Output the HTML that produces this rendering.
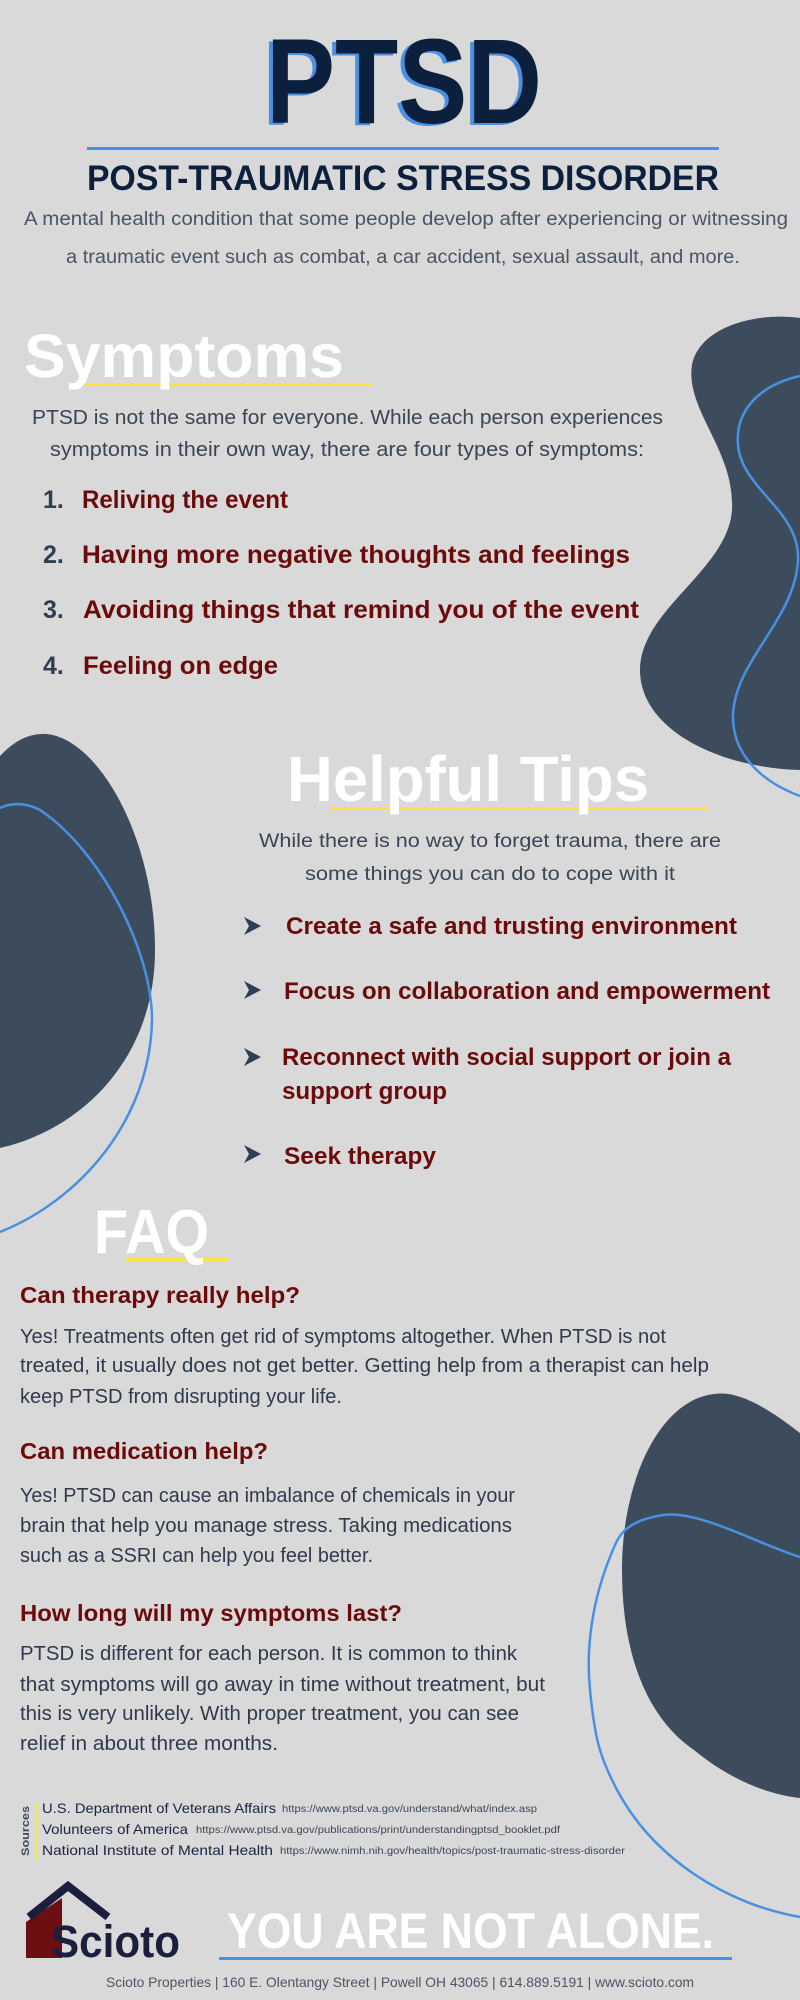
<!DOCTYPE html>
<html><head><meta charset="utf-8"><style>
html,body{margin:0;padding:0;background:#d9d9d9;}
svg{display:block;}
text{font-family:"Liberation Sans",sans-serif;}
</style></head><body>
<svg width="800" height="2000" viewBox="0 0 800 2000" xmlns="http://www.w3.org/2000/svg">
<rect width="800" height="2000" fill="#d9d9d9"/>
<!-- blobs -->
<path d="M800,318 C760,312 700,325 692,365 C685,410 735,450 732,510 C728,570 640,610 640,670 C640,730 720,768 800,770 Z" fill="#3c4c5d"/>
<path d="M800,376 C760,385 735,410 738,445 C742,490 800,510 798,560 C795,620 735,660 733,715 C732,760 770,785 800,796" fill="none" stroke="#4a90e2" stroke-width="2.5"/>
<path d="M0,756 C15,740 30,733 47,734 C100,740 155,840 155,950 C155,1060 80,1130 0,1148 Z" fill="#3c4c5d"/>
<path d="M0,808 C10,803 25,802 40,810 C100,850 152,950 152,1020 C150,1120 80,1200 0,1232" fill="none" stroke="#4a90e2" stroke-width="2.5"/>
<path d="M800,1433 C770,1410 740,1390 714,1394 C660,1400 622,1480 622,1570 C622,1660 650,1720 694,1750 C730,1780 770,1795 800,1798 Z" fill="#3c4c5d"/>
<path d="M800,1557 C760,1545 700,1510 663,1515 C630,1520 620,1533 615,1545 C595,1590 585,1640 590,1690 C595,1740 600,1755 612,1780 C650,1860 730,1905 800,1917" fill="none" stroke="#4a90e2" stroke-width="2.5"/>

<!-- title -->
<text x="262" y="125" font-size="121" font-weight="bold" fill="#4a90e2" textLength="276" lengthAdjust="spacingAndGlyphs">PTSD</text>
<text x="266" y="123" font-size="121" font-weight="bold" fill="#0c1f3d" textLength="276" lengthAdjust="spacingAndGlyphs">PTSD</text>
<rect x="87" y="147" width="632" height="3" fill="#4a90e2"/>
<text x="87" y="190" font-size="35" font-weight="bold" fill="#0c1f3d" textLength="632" lengthAdjust="spacingAndGlyphs">POST-TRAUMATIC STRESS DISORDER</text>
<text x="24" y="225" font-size="19" fill="#4a5566" textLength="764" lengthAdjust="spacingAndGlyphs">A mental health condition that some people develop after experiencing or witnessing</text>
<text x="66" y="263" font-size="19" fill="#4a5566" textLength="674" lengthAdjust="spacingAndGlyphs">a traumatic event such as combat, a car accident, sexual assault, and more.</text>

<!-- symptoms -->
<rect x="83" y="383" width="288" height="3" fill="#f5e642"/>
<text x="24" y="377" font-size="61" font-weight="bold" fill="#ffffff" textLength="320" lengthAdjust="spacingAndGlyphs">Symptoms</text>
<text x="32" y="424" font-size="20" fill="#3a4556" textLength="631" lengthAdjust="spacingAndGlyphs">PTSD is not the same for everyone. While each person experiences</text>
<text x="50" y="456" font-size="20" fill="#3a4556" textLength="594" lengthAdjust="spacingAndGlyphs">symptoms in their own way, there are four types of symptoms:</text>
<g font-size="25" font-weight="bold">
<text x="43" y="508" fill="#2f3e52">1.</text>
<text x="82" y="508" fill="#6b0a0a" textLength="206" lengthAdjust="spacingAndGlyphs">Reliving the event</text>
<text x="43" y="563" fill="#2f3e52">2.</text>
<text x="82" y="563" fill="#6b0a0a" textLength="548" lengthAdjust="spacingAndGlyphs">Having more negative thoughts and feelings</text>
<text x="43" y="618" fill="#2f3e52">3.</text>
<text x="83" y="618" fill="#6b0a0a" textLength="556" lengthAdjust="spacingAndGlyphs">Avoiding things that remind you of the event</text>
<text x="43" y="674" fill="#2f3e52">4.</text>
<text x="83" y="674" fill="#6b0a0a" textLength="195" lengthAdjust="spacingAndGlyphs">Feeling on edge</text>
</g>

<!-- helpful tips -->
<rect x="329" y="807" width="379" height="3" fill="#f5e642"/>
<text x="287" y="801" font-size="64" font-weight="bold" fill="#ffffff" textLength="362" lengthAdjust="spacingAndGlyphs">Helpful Tips</text>
<text x="259" y="847" font-size="19" fill="#3a4556" textLength="462" lengthAdjust="spacingAndGlyphs">While there is no way to forget trauma, there are</text>
<text x="305" y="880" font-size="19" fill="#3a4556" textLength="370" lengthAdjust="spacingAndGlyphs">some things you can do to cope with it</text>
<g fill="#2f3e52">
<polygon points="244,917 261,926 244,935 249,926"/>
<polygon points="244,981 261,990 244,999 249,990"/>
<polygon points="244,1048 261,1057 244,1066 249,1057"/>
<polygon points="244,1145 261,1154 244,1163 249,1154"/>
</g>
<g font-size="24" font-weight="bold" fill="#6b0a0a">
<text x="286" y="934" textLength="451" lengthAdjust="spacingAndGlyphs">Create a safe and trusting environment</text>
<text x="284" y="999" textLength="486" lengthAdjust="spacingAndGlyphs">Focus on collaboration and empowerment</text>
<text x="282" y="1065" textLength="449" lengthAdjust="spacingAndGlyphs">Reconnect with social support or join a</text>
<text x="282" y="1099" textLength="165" lengthAdjust="spacingAndGlyphs">support group</text>
<text x="284" y="1164" textLength="152" lengthAdjust="spacingAndGlyphs">Seek therapy</text>
</g>

<!-- FAQ -->
<rect x="125" y="1258" width="102" height="3" fill="#f5e642"/>
<text x="94" y="1253" font-size="62" font-weight="bold" fill="#ffffff" textLength="115" lengthAdjust="spacingAndGlyphs">FAQ</text>
<g font-size="23" font-weight="bold" fill="#6b0a0a">
<text x="20" y="1303" textLength="280" lengthAdjust="spacingAndGlyphs">Can therapy really help?</text>
<text x="20" y="1459" textLength="248" lengthAdjust="spacingAndGlyphs">Can medication help?</text>
<text x="20" y="1621" textLength="382" lengthAdjust="spacingAndGlyphs">How long will my symptoms last?</text>
</g>
<g font-size="20" fill="#2f3a4c">
<text x="20" y="1343" textLength="646" lengthAdjust="spacingAndGlyphs">Yes! Treatments often get rid of symptoms altogether. When PTSD is not</text>
<text x="20" y="1372" textLength="689" lengthAdjust="spacingAndGlyphs">treated, it usually does not get better. Getting help from a therapist can help</text>
<text x="20" y="1403" textLength="322" lengthAdjust="spacingAndGlyphs">keep PTSD from disrupting your life.</text>
<text x="20" y="1502" textLength="495" lengthAdjust="spacingAndGlyphs">Yes! PTSD can cause an imbalance of chemicals in your</text>
<text x="20" y="1532" textLength="492" lengthAdjust="spacingAndGlyphs">brain that help you manage stress. Taking medications</text>
<text x="20" y="1562" textLength="353" lengthAdjust="spacingAndGlyphs">such as a SSRI can help you feel better.</text>
<text x="20" y="1660" textLength="497" lengthAdjust="spacingAndGlyphs">PTSD is different for each person. It is common to think</text>
<text x="20" y="1691" textLength="525" lengthAdjust="spacingAndGlyphs">that symptoms will go away in time without treatment, but</text>
<text x="20" y="1720" textLength="499" lengthAdjust="spacingAndGlyphs">this is very unlikely. With proper treatment, you can see</text>
<text x="20" y="1750" textLength="258" lengthAdjust="spacingAndGlyphs">relief in about three months.</text>
</g>

<!-- sources -->
<rect x="36" y="1802" width="1.5" height="58" fill="#f5e642"/>
<text transform="translate(29,1831) rotate(-90)" text-anchor="middle" font-size="11" font-weight="bold" fill="#3c4c5d" textLength="50" lengthAdjust="spacingAndGlyphs">Sources</text>
<g fill="#1a2344" font-size="14">
<text x="42" y="1813" textLength="234" lengthAdjust="spacingAndGlyphs">U.S. Department of Veterans Affairs</text>
<text x="42" y="1834" textLength="146" lengthAdjust="spacingAndGlyphs">Volunteers of America</text>
<text x="42" y="1855" textLength="231" lengthAdjust="spacingAndGlyphs">National Institute of Mental Health</text>
</g>
<g fill="#3a4556" font-size="10">
<text x="282" y="1812" textLength="255" lengthAdjust="spacingAndGlyphs">https://www.ptsd.va.gov/understand/what/index.asp</text>
<text x="196" y="1833" textLength="364" lengthAdjust="spacingAndGlyphs">https://www.ptsd.va.gov/publications/print/understandingptsd_booklet.pdf</text>
<text x="280" y="1854" textLength="345" lengthAdjust="spacingAndGlyphs">https://www.nimh.nih.gov/health/topics/post-traumatic-stress-disorder</text>
</g>

<!-- logo -->
<polygon points="26,1922 62,1898 62,1958 26,1958" fill="#6b0f12"/>
<polyline points="29,1917 68,1886 108,1917" fill="none" stroke="#1a1f3d" stroke-width="8"/>
<text x="51" y="1957" font-size="45" font-weight="bold" fill="#1a1f3d" textLength="129" lengthAdjust="spacingAndGlyphs">Scioto</text>

<text x="227" y="1948" font-size="50" font-weight="bold" fill="#ffffff" textLength="487" lengthAdjust="spacingAndGlyphs">YOU ARE NOT ALONE.</text>
<rect x="219" y="1957" width="513" height="3" fill="#4a90e2"/>
<text x="106" y="1987" font-size="14" fill="#4a5566" textLength="588" lengthAdjust="spacingAndGlyphs">Scioto Properties | 160 E. Olentangy Street | Powell OH 43065 | 614.889.5191 | www.scioto.com</text>
</svg>
</body></html>
